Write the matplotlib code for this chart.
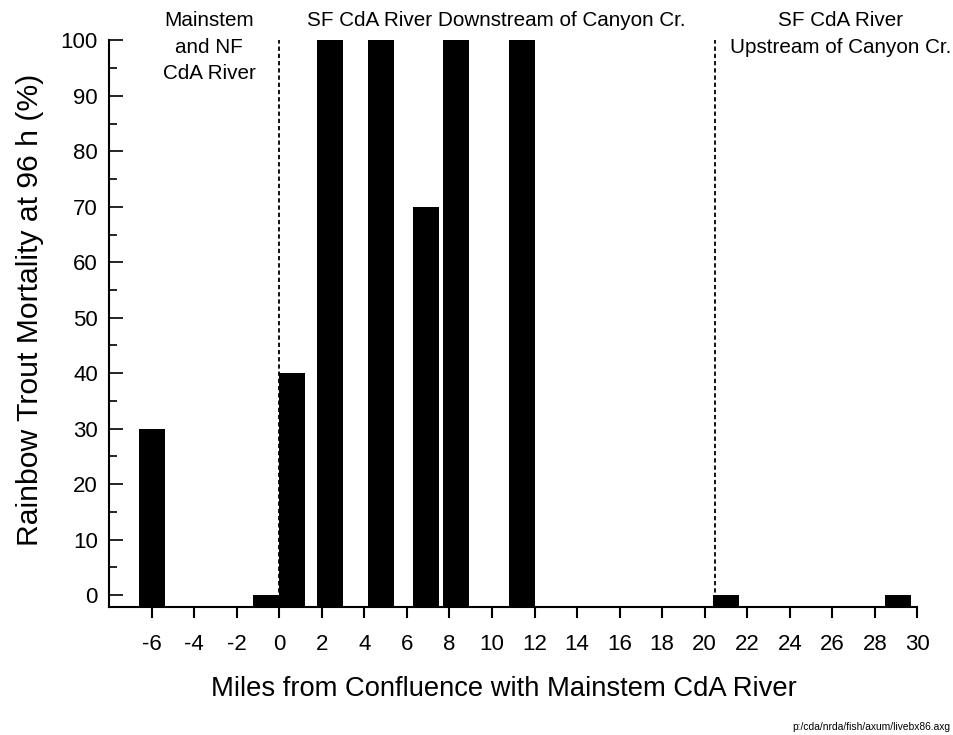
import matplotlib
matplotlib.use("Agg")
import matplotlib.pyplot as plt
from matplotlib.ticker import MultipleLocator

plt.rcParams['font.family'] = ['Liberation Sans', 'DejaVu Sans']

# river mile of each sampling site and 96 h mortality
miles = [-6.0, -0.6, 0.6, 2.4, 4.8, 6.9, 8.3, 11.4, 21.0, 29.1]
mortality = [30, 0, 40, 100, 100, 70, 100, 100, 0, 0]
xticks = list(range(-6, 31, 2))
boundaries = [0, 20.5]

ymin = -2.1

fig = plt.figure(figsize=(9.54, 7.35), dpi=100)
ax = fig.add_axes([0.1143, 0.1746, 0.9617 - 0.1143, 0.9449 - 0.1746])

for b in boundaries:
    ax.axvline(b, color='black', linestyle=(0, (2.4, 1.6)), linewidth=1.3, zorder=1)

ax.bar(miles, [m - ymin for m in mortality], bottom=ymin, width=1.22,
       color='black', edgecolor='none', zorder=2)

ax.set_xlim(-8, 30)
ax.set_ylim(ymin, 100)
ax.spines['top'].set_visible(False)
ax.spines['right'].set_visible(False)
for s in ('left', 'bottom'):
    ax.spines[s].set_linewidth(1.5)

ax.set_xticks(xticks)
ax.set_xticklabels([str(t) for t in xticks])
ax.yaxis.set_major_locator(MultipleLocator(10))
ax.yaxis.set_minor_locator(MultipleLocator(5))
ax.set_yticks(range(0, 101, 10))
ax.tick_params(axis='x', direction='out', length=8, width=1.5, pad=12, labelsize=16)
ax.tick_params(axis='y', which='major', direction='in', length=10, width=1.2, pad=8, labelsize=16)
ax.tick_params(axis='y', which='minor', direction='in', length=6, width=1.2)

ax.set_xlabel('Miles from Confluence with Mainstem CdA River', fontsize=19.7)
ax.set_ylabel('Rainbow Trout Mortality at 96 h (%)', fontsize=21.7)
ax.xaxis.set_label_coords(0.489, -0.122)
ax.yaxis.set_label_coords(-0.080, 0.524)

ax.text(-3.3, 1.052, 'Mainstem\nand NF\nCdA River', transform=ax.get_xaxis_transform(),
        ha='center', va='top', fontsize=14.9, linespacing=1.5)
ax.text(10.2, 1.052, 'SF CdA River Downstream of Canyon Cr.', transform=ax.get_xaxis_transform(),
        ha='center', va='top', fontsize=14.9)
ax.text(26.4, 1.052, 'SF CdA River\nUpstream of Canyon Cr.', transform=ax.get_xaxis_transform(),
        ha='center', va='top', fontsize=14.9, linespacing=1.5)

fig.text(0.996, 0.011, 'p:/cda/nrda/fish/axum/livebx86.axg', ha='right', va='center', fontsize=7.35)

fig.savefig('out.png', dpi=100, facecolor='white')
